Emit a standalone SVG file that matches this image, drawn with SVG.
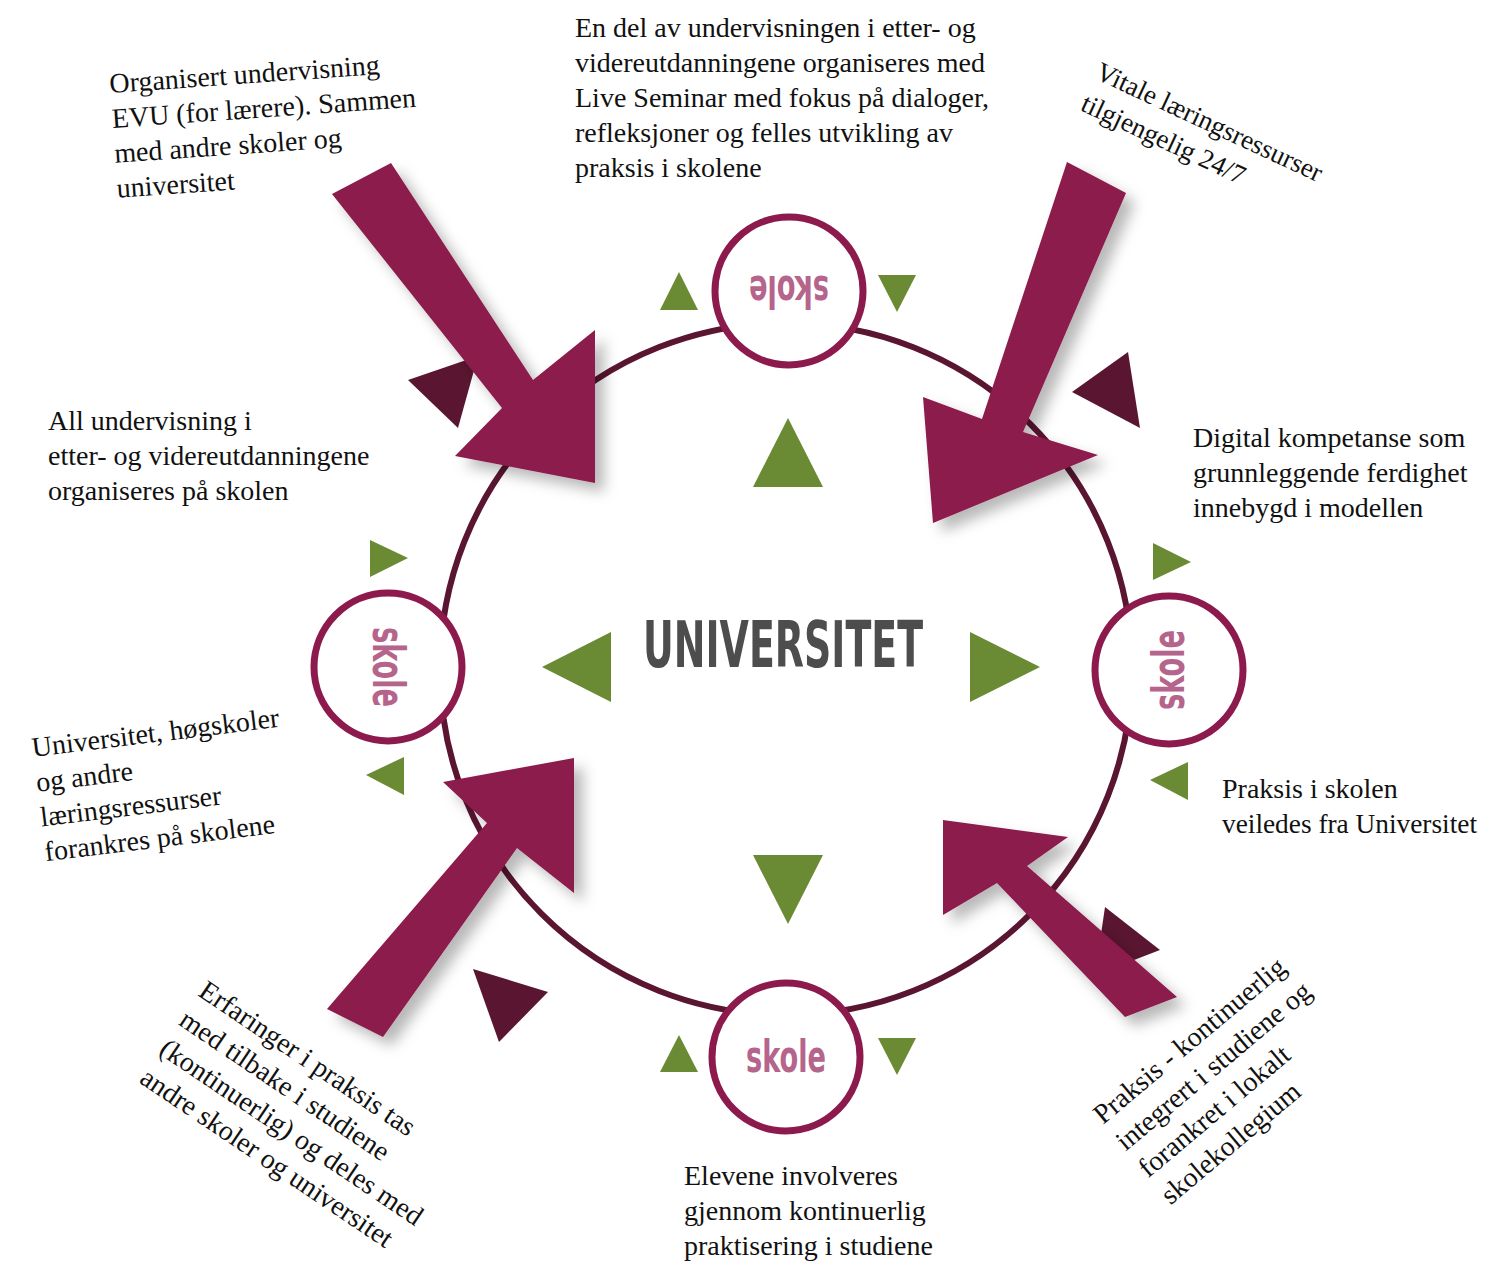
<svg xmlns="http://www.w3.org/2000/svg" width="1486" height="1264" viewBox="0 0 1486 1264">
<defs>
<filter id="sh" x="-30%" y="-30%" width="160%" height="160%">
<feDropShadow dx="9" dy="9" stdDeviation="7" flood-color="#000" flood-opacity="0.28"/>
</filter>
</defs>
<style>
.ring{fill:none;stroke:#5a1530;stroke-width:6}
.sk{fill:#fff;stroke:#8c1a4c;stroke-width:7}
.skt{font-family:"Liberation Sans Narrow","DejaVu Sans Condensed","Liberation Sans",sans-serif;font-weight:bold;font-size:44px;fill:#b5648c;text-anchor:middle}
.uni{font-family:"Liberation Sans Narrow","DejaVu Sans Condensed","Liberation Sans",sans-serif;font-weight:bold;font-size:64px;fill:#4d4d4d}
.t{font-family:"Liberation Serif","DejaVu Serif",serif;font-size:28px;fill:#111}
.s{font-size:27px}
.g{fill:#6a8a34}
.d{fill:#5a1630}
.arr{fill:#8c1a4c;filter:url(#sh)}
</style>
<rect width="1486" height="1264" fill="#fff"/>
<circle class="ring" cx="786" cy="669" r="346"/>
<g id="decor">
<polygon class="g" points="679,272 660,310 698,310"/>
<polygon class="g" points="878,275 916,275 897,312"/>
<polygon class="g" points="788,418 753,487 823,487"/>
<polygon class="g" points="753,855 823,855 788,924"/>
<polygon class="g" points="542,667 611,632 611,702"/>
<polygon class="g" points="1040,667 970,632 970,702"/>
<polygon class="g" points="370,540 370,577 408,558"/>
<polygon class="g" points="366,775 404,757 404,795"/>
<polygon class="g" points="1153,543 1153,580 1191,562"/>
<polygon class="g" points="1150,780 1188,762 1188,800"/>
<polygon class="g" points="679,1035 660,1072 698,1072"/>
<polygon class="g" points="878,1038 916,1038 897,1075"/>
<polygon class="d" points="408,380 478,356 458,428"/>
<polygon class="d" points="1072,392 1128,352 1140,428"/>
<polygon class="d" points="473,969 548,992 499,1042"/>
<polygon class="d" points="1105,907 1160,950 1095,975"/>
</g>
<g id="connectors">
<polygon class="arr" points="391,163 533,380 595,330 595,483 455,456 502,408 332,194"/>
<polygon class="arr" points="1067,162 1126,193 1023,432 1098,455 933,523 923,397 982,419"/>
<polygon class="arr" points="327,1009 487,823 443,782 574,758 574,893 517,848 383,1037"/>
<polygon class="arr" points="943,820 1068,837 1027,866 1177,997 1125,1017 997,883 943,915"/>
</g>
<g id="skole-top" transform="translate(789,291)">
<circle class="sk" r="74"/>
<text class="skt" transform="rotate(180)" x="0" y="15" textLength="80" lengthAdjust="spacingAndGlyphs">skole</text>
</g>
<g id="skole-right" transform="translate(1169,670)">
<circle class="sk" r="74"/>
<text class="skt" transform="rotate(-90)" x="0" y="15" textLength="80" lengthAdjust="spacingAndGlyphs">skole</text>
</g>
<g id="skole-bottom" transform="translate(786,1057)">
<circle class="sk" r="74"/>
<text class="skt" x="0" y="15" textLength="80" lengthAdjust="spacingAndGlyphs">skole</text>
</g>
<g id="skole-left" transform="translate(388,667)">
<circle class="sk" r="74"/>
<text class="skt" transform="rotate(90)" x="0" y="15" textLength="80" lengthAdjust="spacingAndGlyphs">skole</text>
</g>
<g id="universitet">
<text class="uni" x="643" y="667" textLength="280" lengthAdjust="spacingAndGlyphs">UNIVERSITET</text>
</g>
<g id="text-top">
<text class="t" x="575" y="37">En del av undervisningen i etter- og</text>
<text class="t" x="575" y="72">videreutdanningene organiseres med</text>
<text class="t" x="575" y="107">Live Seminar med fokus på dialoger,</text>
<text class="t" x="575" y="142">refleksjoner og felles utvikling av</text>
<text class="t" x="575" y="177">praksis i skolene</text>
</g>
<g id="text-topleft" transform="translate(110,93) rotate(-4)">
<text class="t" x="0" y="0">Organisert undervisning</text>
<text class="t" x="0" y="35">EVU (for lærere). Sammen</text>
<text class="t" x="0" y="70">med andre skoler og</text>
<text class="t" x="0" y="105">universitet</text>
</g>
<g id="text-topright" transform="translate(1094,78) rotate(25)">
<text class="t s" x="0" y="0">Vitale læringsressurser</text>
<text class="t s" x="0" y="35">tilgjengelig 24/7</text>
</g>
<g id="text-left">
<text class="t" x="48" y="430">All undervisning i</text>
<text class="t" x="48" y="465">etter- og videreutdanningene</text>
<text class="t" x="48" y="500">organiseres på skolen</text>
</g>
<g id="text-right">
<text class="t" x="1193" y="447">Digital kompetanse som</text>
<text class="t" x="1193" y="482">grunnleggende ferdighet</text>
<text class="t" x="1193" y="517">innebygd i modellen</text>
</g>
<g id="text-leftlow" transform="translate(33,757) rotate(-7)">
<text class="t" x="0" y="0">Universitet, høgskoler</text>
<text class="t" x="0" y="35">og andre</text>
<text class="t" x="0" y="70">læringsressurser</text>
<text class="t" x="0" y="105">forankres på skolene</text>
</g>
<g id="text-rightlow">
<text class="t" x="1222" y="798">Praksis i skolen</text>
<text class="t" x="1222" y="833" textLength="255" lengthAdjust="spacingAndGlyphs">veiledes fra Universitet</text>
</g>
<g id="text-bottom">
<text class="t" x="684" y="1185">Elevene involveres</text>
<text class="t" x="684" y="1220">gjennom kontinuerlig</text>
<text class="t" x="684" y="1255">praktisering i studiene</text>
</g>
<g id="text-bottomleft" transform="translate(197,995) rotate(34)">
<text class="t" x="0" y="0">Erfaringer i praksis tas</text>
<text class="t" x="0" y="35">med tilbake i studiene</text>
<text class="t" x="0" y="70">(kontinuerlig) og deles med</text>
<text class="t" x="0" y="105">andre skoler og universitet</text>
</g>
<g id="text-bottomright" transform="translate(1103,1125) rotate(-40)">
<text class="t" x="0" y="0">Praksis - kontinuerlig</text>
<text class="t" x="0" y="35">integrert i studiene og</text>
<text class="t" x="0" y="70">forankret i lokalt</text>
<text class="t" x="0" y="105">skolekollegium</text>
</g>
</svg>
